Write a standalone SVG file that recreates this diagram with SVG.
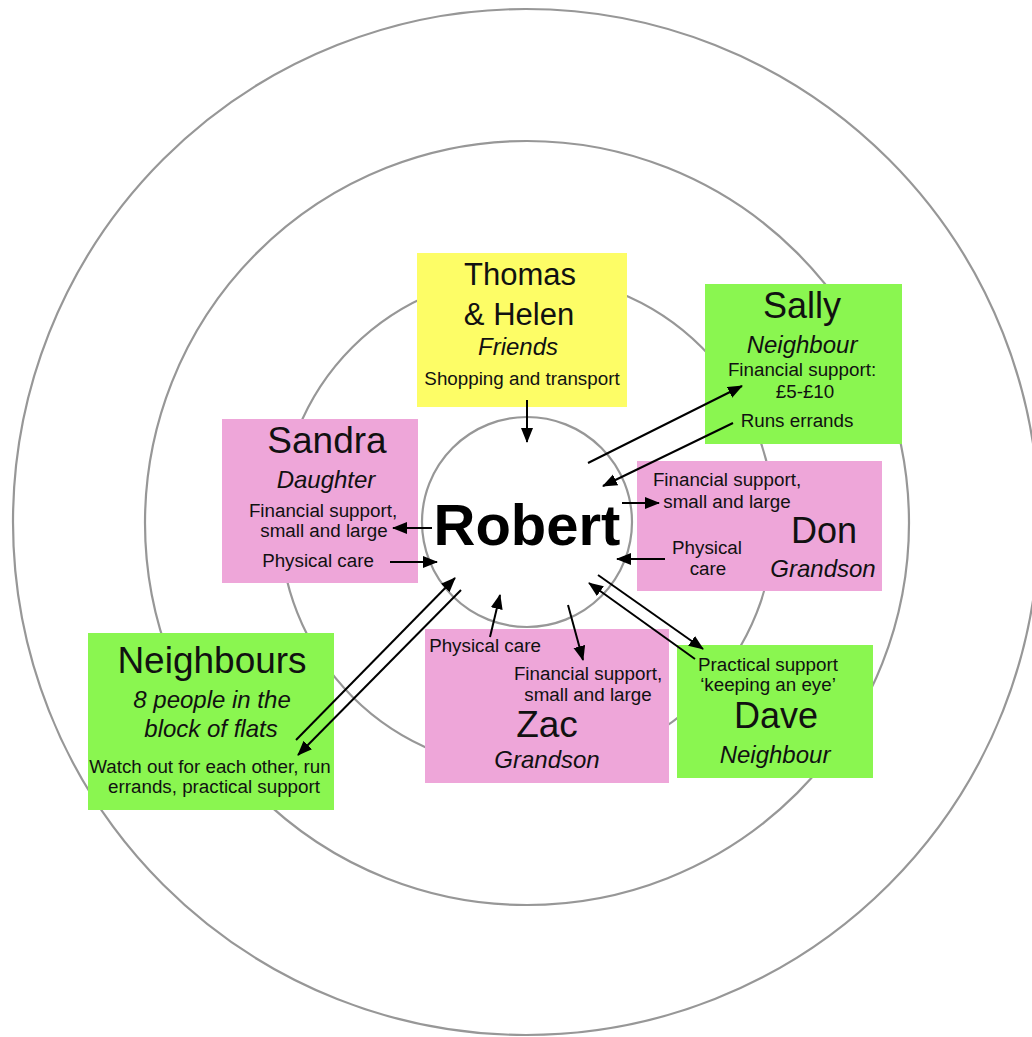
<svg xmlns="http://www.w3.org/2000/svg" width="1032" height="1037" viewBox="0 0 1032 1037">
  <style>
    .ring { fill: none; stroke: #979797; stroke-width: 2.2; }
    .box-friend { fill: #fdfd66; }
    .box-neigh { fill: #8af650; }
    .box-family { fill: #eea6d9; }
    text { font-family: "Liberation Sans", Arial, Helvetica, sans-serif; fill: #111; text-anchor: middle; }
    .name { font-size: 36px; }
    .role { font-size: 24px; font-style: italic; }
    .lbl { font-size: 18.8px; }
    .centre { font-size: 58px; font-weight: bold; fill: #000; }
    .link { stroke: #000; stroke-width: 2; fill: none; marker-end: url(#arrow); }
  </style>
  <defs>
    <marker id="arrow" markerUnits="userSpaceOnUse" markerWidth="16" markerHeight="13" refX="14" refY="6" orient="auto">
      <path d="M0,0 L15,6 L0,12 z" fill="#000"/>
    </marker>
  </defs>

  <rect width="1032" height="1037" fill="#fff"/>

  <!-- concentric circles of support -->
  <g id="rings">
    <circle class="ring" cx="526" cy="522" r="513"/>
    <circle class="ring" cx="527" cy="523" r="382"/>
    <circle class="ring" cx="527" cy="522" r="247"/>
    <circle class="ring" cx="527" cy="522" r="105" fill="#fff"/>
  </g>

  <g id="robert">
    <text class="centre" x="527" y="545">Robert</text>
  </g>

  <g id="thomas-helen">
    <rect class="box-friend" x="417" y="253" width="210" height="154"/>
    <text class="name" x="520" y="285" style="font-size:31px">Thomas</text>
    <text class="name" x="519" y="325" style="font-size:31px">&amp; Helen</text>
    <text class="role" x="518" y="355">Friends</text>
    <text class="lbl" x="522" y="385">Shopping and transport</text>
  </g>

  <g id="sally">
    <rect class="box-neigh" x="705" y="284" width="197" height="160"/>
    <text class="name" x="802" y="318">Sally</text>
    <text class="role" x="802" y="353">Neighbour</text>
    <text class="lbl" x="802" y="376">Financial support:</text>
    <text class="lbl" x="805" y="398">£5-£10</text>
    <text class="lbl" x="797" y="427">Runs errands</text>
  </g>

  <g id="sandra">
    <rect class="box-family" x="222" y="419" width="196" height="164"/>
    <text class="name" x="327" y="453" style="font-size:37px">Sandra</text>
    <text class="role" x="326" y="488">Daughter</text>
    <text class="lbl" x="323" y="517">Financial support,</text>
    <text class="lbl" x="324" y="537">small and large</text>
    <text class="lbl" x="318" y="567">Physical care</text>
  </g>

  <g id="don">
    <rect class="box-family" x="637" y="461" width="245" height="130"/>
    <text class="lbl" x="727" y="486">Financial support,</text>
    <text class="lbl" x="727" y="508">small and large</text>
    <text class="name" x="824" y="543">Don</text>
    <text class="lbl" x="707" y="554">Physical</text>
    <text class="lbl" x="708" y="575">care</text>
    <text class="role" x="823" y="577">Grandson</text>
  </g>

  <g id="neighbours">
    <rect class="box-neigh" x="88" y="633" width="246" height="177"/>
    <text class="name" x="212" y="673" style="font-size:37px">Neighbours</text>
    <text class="role" x="212" y="708">8 people in the</text>
    <text class="role" x="211" y="737">block of flats</text>
    <text class="lbl" x="210" y="773">Watch out for each other, run</text>
    <text class="lbl" x="214" y="793">errands, practical support</text>
  </g>

  <g id="zac">
    <rect class="box-family" x="425" y="629" width="244" height="154"/>
    <text class="lbl" x="485" y="652">Physical care</text>
    <text class="lbl" x="588" y="680">Financial support,</text>
    <text class="lbl" x="588" y="701">small and large</text>
    <text class="name" x="547" y="737" style="font-size:37px">Zac</text>
    <text class="role" x="547" y="768">Grandson</text>
  </g>

  <g id="dave">
    <rect class="box-neigh" x="677" y="645" width="196" height="133"/>
    <text class="lbl" x="768" y="671">Practical support</text>
    <text class="lbl" x="768" y="691">‘keeping an eye’</text>
    <text class="name" x="776" y="728">Dave</text>
    <text class="role" x="775" y="763">Neighbour</text>
  </g>

  <!-- support flowing between Robert and his network -->
  <g id="connectors">
    <line class="link" x1="527" y1="400" x2="527" y2="442"/>
    <line class="link" x1="588" y1="463" x2="742" y2="386"/>
    <line class="link" x1="733" y1="423" x2="603" y2="486"/>
    <line class="link" x1="432" y1="528" x2="393" y2="528"/>
    <line class="link" x1="390" y1="562" x2="437" y2="562"/>
    <line class="link" x1="622" y1="503" x2="659" y2="503"/>
    <line class="link" x1="665" y1="559" x2="617" y2="559"/>
    <line class="link" x1="296" y1="740" x2="455" y2="578"/>
    <line class="link" x1="461" y1="590" x2="298" y2="755"/>
    <line class="link" x1="490" y1="637" x2="500" y2="595"/>
    <line class="link" x1="568" y1="605" x2="583" y2="660"/>
    <line class="link" x1="598" y1="575" x2="703" y2="649"/>
    <line class="link" x1="695" y1="659" x2="589" y2="583"/>
  </g>
</svg>
